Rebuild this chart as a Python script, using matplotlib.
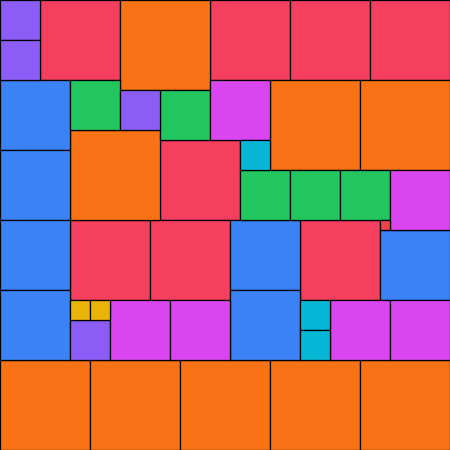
import matplotlib
matplotlib.use("Agg")
import matplotlib.pyplot as plt
from matplotlib.patches import Rectangle

# each square: left, top, side (grid units of 10 px)
groups = ["red", "orange", "blue", "green", "purple", "magenta", "cyan", "yellow", "small"]

red_x = [4, 21, 29, 37, 16, 7, 15, 30]
red_y = [0, 0, 0, 0, 14, 22, 22, 22]
red_s = [8, 8, 8, 8, 8, 8, 8, 8]

orange_x = [12, 27, 36, 7, 0, 9, 18, 27, 36]
orange_y = [0, 8, 8, 13, 36, 36, 36, 36, 36]
orange_s = [9, 9, 9, 9, 9, 9, 9, 9, 9]

blue_x = [0, 0, 0, 0, 23, 23, 38]
blue_y = [8, 15, 22, 29, 22, 29, 23]
blue_s = [7, 7, 7, 7, 7, 7, 7]

green_x = [7, 16, 24, 29, 34]
green_y = [8, 9, 17, 17, 17]
green_s = [5, 5, 5, 5, 5]

purple_x = [0, 0, 12, 7]
purple_y = [0, 4, 9, 32]
purple_s = [4, 4, 4, 4]

magenta_x = [21, 39, 11, 17, 33, 39]
magenta_y = [8, 17, 30, 30, 30, 30]
magenta_s = [6, 6, 6, 6, 6, 6]

cyan_x = [24, 30, 30]
cyan_y = [14, 30, 33]
cyan_s = [3, 3, 3]

yellow_x = [7, 9]
yellow_y = [30, 30]
yellow_s = [2, 2]

small_x = [38]
small_y = [22]
small_s = [1]

data = {
    "red": (red_x, red_y, red_s),
    "orange": (orange_x, orange_y, orange_s),
    "blue": (blue_x, blue_y, blue_s),
    "green": (green_x, green_y, green_s),
    "purple": (purple_x, purple_y, purple_s),
    "magenta": (magenta_x, magenta_y, magenta_s),
    "cyan": (cyan_x, cyan_y, cyan_s),
    "yellow": (yellow_x, yellow_y, yellow_s),
    "small": (small_x, small_y, small_s),
}

colors = {
    "red": "#f43f5e", "orange": "#f97316", "blue": "#3b82f6", "green": "#22c55e",
    "purple": "#8b5cf6", "magenta": "#d946ef", "cyan": "#06b6d4", "yellow": "#eab308",
    "small": "#ef4444",
}

fig = plt.figure(figsize=(4.5, 4.5), dpi=100)
ax = fig.add_axes([0, 0, 1, 1])
for g in groups:
    xs, ys, ss = data[g]
    for x, y, s in zip(xs, ys, ss):
        ax.add_patch(Rectangle((x, y), s, s, facecolor=colors[g],
                               edgecolor="black", linewidth=0.9))
ax.set_xlim(0, 45)
ax.set_ylim(45, 0)
ax.axis("off")
fig.savefig("out.png", dpi=100)
